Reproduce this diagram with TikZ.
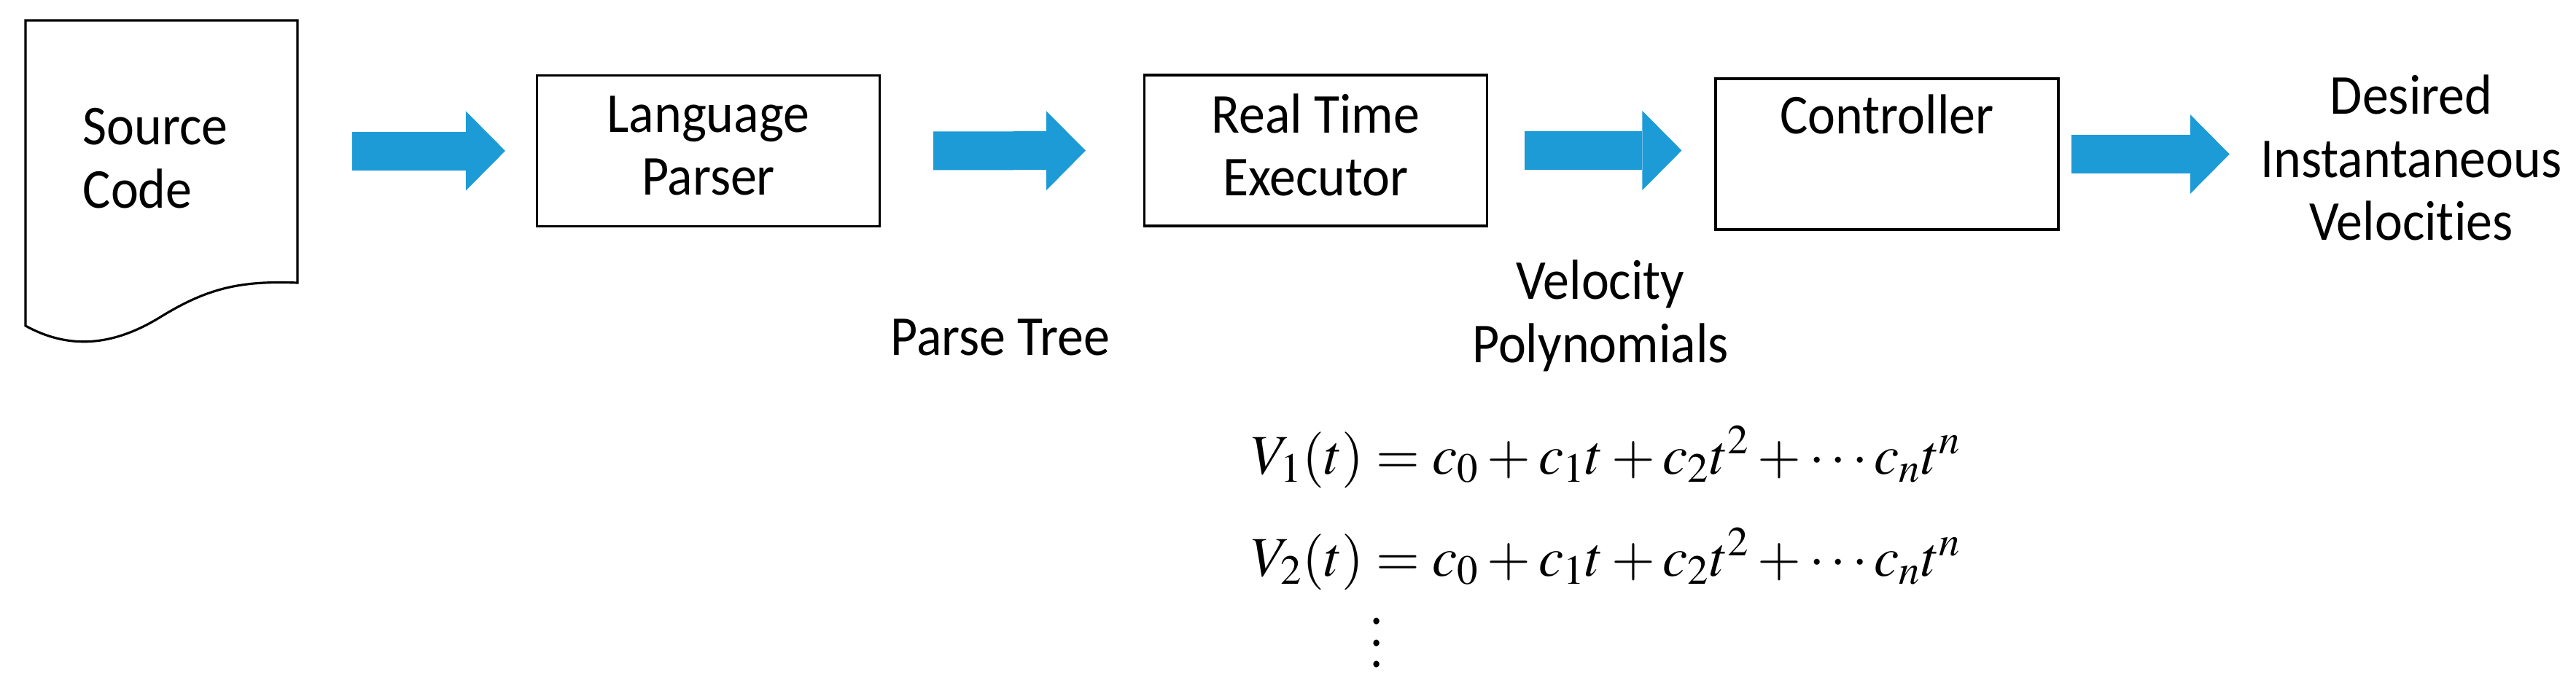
\documentclass[tikz,border=0pt]{standalone}
\usepackage{amsmath}
\usepackage{mathptmx}
\usepackage[no-math]{fontspec}
\setmainfont{Carlito}[FakeStretch=0.93, Ligatures=NoCommon]
\usepackage{graphicx}
\usetikzlibrary{arrows.meta}
\definecolor{flowblue}{RGB}{29,155,215}

\begin{document}
\begin{tikzpicture}[
  box/.style={draw, line width=0.9pt, minimum width=4.7cm, minimum height=2.07cm, inner sep=0pt},
  txt/.style={inner sep=0pt, align=center, font=\fontsize{22}{24.7}\selectfont},
  eqn/.style={inner sep=0pt, anchor=base west, font=\fontsize{21.9}{26}\selectfont},
  flow/.style={draw=flowblue, line width=0.53cm, -{Triangle[length=0.54cm, width=1.09cm, line width=0pt]}}
]
  \useasboundingbox (0,0) rectangle (35.33,-9.44);
  \draw[line width=0.9pt] (0.35,-0.28) -- (4.08,-0.28) -- (4.08,-3.88)
    .. controls (3.3,-3.85) and (2.85,-3.95) .. (2.2,-4.35)
    .. controls (1.55,-4.75) and (0.95,-4.80) .. (0.35,-4.47) -- cycle;
  \node[inner sep=0pt, minimum width=3.73cm, minimum height=3.6cm] (src) at (2.215,-2.08) {};
  \node[txt, align=left, anchor=west] (srctxt) at (1.13,-2.175) {Source\\Code};

  \node[box] (parser) at (9.715,-2.07) {};
  \node[txt] (parsertxt) at ([yshift=0.07cm]parser.center) {Language\\Parser};
  \node[box] (exec) at (18.045,-2.065) {};
  \node[txt] (exectxt) at ([yshift=0.075cm]exec.center) {Real Time\\Executor};
  \node[box] (ctrl) at (25.88,-2.115) {};
  \node[txt, anchor=base] (ctrltxt) at ([yshift=-0.77cm]ctrl.north) {Controller};
  \node[txt] (out) at (33.07,-2.165) {Desired\\Instantaneous\\Velocities};

  \node[txt, anchor=base] (tree) at (13.72,-4.87) {Parse Tree};
  \node[txt] (poly) at (21.95,-4.335) {Velocity\\Polynomials};
  \node[eqn] (eqa) at (17.16,-6.50) {$V_1(t)=c_0+c_1t+c_2t^2+\cdots c_nt^n$};
  \node[eqn] (eqb) at (17.16,-7.90) {$V_2(t)=c_0+c_1t+c_2t^2+\cdots c_nt^n$};
  \node[inner sep=0pt, anchor=south] (dots) at (18.88,-9.17) {\scalebox{2.1}{$\vdots$}};

  \draw[flow, shorten <=0.74cm, shorten >=0.42cm] (src.east |- parser.west) -- (parser.west);
  \draw[flow, shorten <=0.72cm, shorten >=0.79cm] (parser.east) -- (exec.west);
  \draw[flow, shorten <=0.50cm, shorten >=0.45cm] (exec.east) -- (ctrl.west |- exec.east);
  \draw[flow, shorten <=0.16cm, shorten >=0.42cm] (ctrl.east) -- (out.west |- ctrl.east);
\end{tikzpicture}
\end{document}
